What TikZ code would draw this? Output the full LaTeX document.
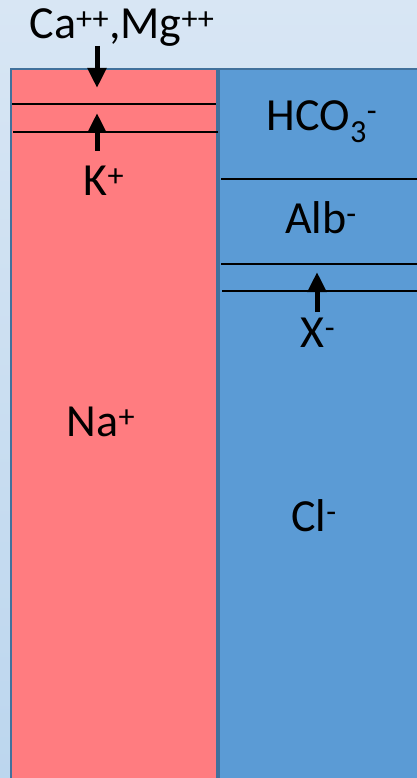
\documentclass[tikz,border=0pt]{standalone}
\usepackage{fontspec}
\setmainfont{Carlito}
\usetikzlibrary{arrows.meta}
\definecolor{pinkfill}{HTML}{FF7C80}
\definecolor{bluefill}{HTML}{5B9BD5}
\definecolor{edgeblue}{HTML}{41719C}
\definecolor{bgtop}{HTML}{D8E6F4}
\definecolor{bgbot}{HTML}{BCD6EE}
\tikzset{
  col/.style={draw=edgeblue, line width=2.5pt},
  sep/.style={draw=black, line width=1.2pt},
  ion/.style={inner sep=0pt, font=\fontsize{46}{50}\selectfont},
  flow/.style={line width=5pt, -{Triangle[width=18pt,length=20pt]}}
}
\begin{document}
\begin{tikzpicture}[x=1pt,y=-1pt]
\useasboundingbox (0,0) rectangle (417,778);
\clip (0,0) rectangle (417,778);
\shade[top color=bgtop, bottom color=bgbot] (0,0) rectangle (417,778);
\fill[pinkfill] (11,69) rectangle (217,800);
\fill[bluefill] (219,69) rectangle (430,800);
\draw[col] (11,800) -- (11,69) -- (217,69) -- (217,800);
\draw[col] (219,800) -- (219,69) -- (430,69);
% separators
\draw[sep] (12,104) -- (216,104);
\draw[sep] (13,132) -- (218,132);
\draw[sep] (221,179) -- (417,179);
\draw[sep] (221,264) -- (417,264);
\draw[sep] (222,291) -- (417,291);
% labels
\node[ion] (ca) at (122,28) {Ca\textsuperscript{++},Mg\textsuperscript{++}};
\node[ion] (k) at (104,181) {K\textsuperscript{+}};
\node[ion] (hco) at (322,122) {HCO\textsubscript{3}\textsuperscript{-}};
\node[ion] (alb) at (321,218) {Alb\textsuperscript{-}};
\node[ion] (x) at (318,333) {X\textsuperscript{-}};
\node[ion] (na) at (101,422) {Na\textsuperscript{+}};
\node[ion] (cl) at (314,516) {Cl\textsuperscript{-}};
% arrows
\coordinate (caS) at (97,46);
\coordinate (caT) at (97,88);
\coordinate (kS) at (97,151);
\coordinate (kT) at (97,113);
\coordinate (xS) at (317,312);
\coordinate (xT) at (317,272);
\draw[flow] (caS) -- (caT);
\draw[flow] (kS) -- (kT);
\draw[flow] (xS) -- (xT);
\end{tikzpicture}
\end{document}
